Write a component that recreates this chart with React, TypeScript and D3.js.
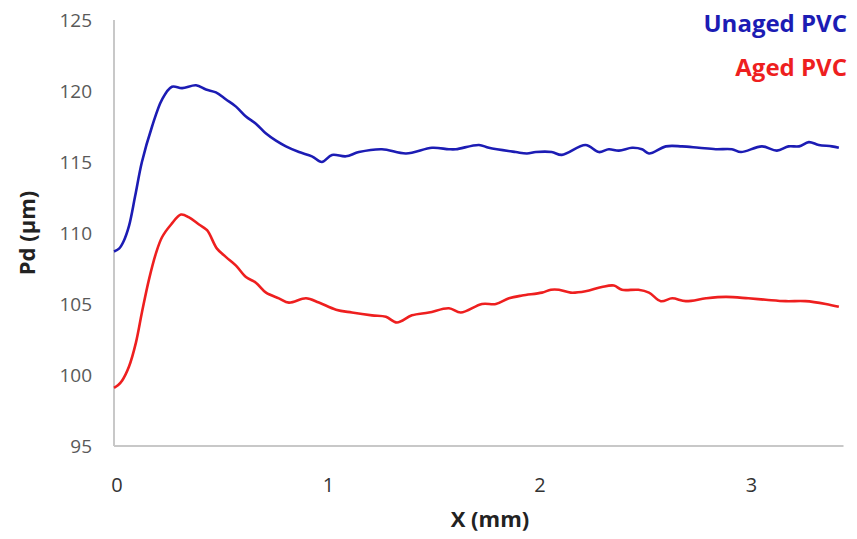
import * as d3 from "d3";

// X positions (mm) and Pd values (µm)
const unagedX = [0, 0.024, 0.045, 0.071, 0.1, 0.132, 0.18, 0.227, 0.274, 0.322, 0.388, 0.435, 0.482, 0.53, 0.577, 0.624, 0.671, 0.719, 0.766, 0.813, 0.875, 0.936, 0.983, 1.031, 1.097, 1.158, 1.267, 1.381, 1.504, 1.584, 1.617, 1.726, 1.773, 1.9, 1.953, 1.995, 2.07, 2.118, 2.23, 2.293, 2.34, 2.388, 2.45, 2.497, 2.53, 2.61, 2.686, 2.766, 2.846, 2.922, 2.965, 3.064, 3.135, 3.19, 3.24, 3.286, 3.333, 3.395, 3.428];
const unagedY = [108.7, 108.9, 109.4, 110.5, 112.6, 115.0, 117.5, 119.4, 120.3, 120.2, 120.4, 120.1, 119.9, 119.4, 118.9, 118.2, 117.7, 117.0, 116.5, 116.1, 115.7, 115.4, 115.0, 115.5, 115.4, 115.7, 115.9, 115.6, 116.0, 115.9, 115.9, 116.2, 116.0, 115.7, 115.6, 115.7, 115.7, 115.5, 116.2, 115.7, 115.9, 115.8, 116.0, 115.9, 115.6, 116.1, 116.1, 116.0, 115.9, 115.9, 115.7, 116.1, 115.8, 116.1, 116.1, 116.4, 116.2, 116.1, 116.0];

const agedX = [0, 0.02, 0.038, 0.071, 0.104, 0.132, 0.165, 0.199, 0.227, 0.27, 0.317, 0.355, 0.402, 0.44, 0.487, 0.53, 0.577, 0.624, 0.671, 0.719, 0.78, 0.827, 0.908, 0.969, 1.05, 1.125, 1.22, 1.286, 1.338, 1.409, 1.489, 1.584, 1.64, 1.74, 1.806, 1.868, 1.93, 2.024, 2.066, 2.104, 2.16, 2.23, 2.307, 2.364, 2.402, 2.48, 2.53, 2.586, 2.64, 2.704, 2.8, 2.894, 3.0, 3.083, 3.177, 3.27, 3.366, 3.428];
const agedY = [99.1, 99.3, 99.6, 100.6, 102.3, 104.4, 106.7, 108.6, 109.7, 110.6, 111.3, 111.1, 110.6, 110.2, 108.9, 108.3, 107.7, 106.9, 106.5, 105.8, 105.4, 105.1, 105.4, 105.1, 104.6, 104.4, 104.2, 104.1, 103.7, 104.2, 104.4, 104.7, 104.4, 105.0, 105.0, 105.4, 105.6, 105.8, 106.0, 106.0, 105.8, 105.9, 106.2, 106.3, 106.0, 106.0, 105.8, 105.2, 105.4, 105.2, 105.4, 105.5, 105.4, 105.3, 105.2, 105.2, 105.0, 104.8];

const xTicks = [0, 1, 2, 3];
const yTicks = [95, 100, 105, 110, 115, 120, 125];

const seriesNames = ["Unaged PVC", "Aged PVC"];
const seriesColors = ["#1c1cb4", "#ee1f1f"];

const W = 857;
const H = 539;
const font = "'Open Sans', 'Liberation Sans', sans-serif";

export default function App() {
  const x = d3.scaleLinear().domain([0, 3.45]).range([114, 843.5]);
  const y = d3.scaleLinear().domain([95, 125]).range([446, 20]);

  const series = [
    unagedX.map((v, i) => [v, unagedY[i]] as [number, number]),
    agedX.map((v, i) => [v, agedY[i]] as [number, number]),
  ];

  const line = d3
    .line<[number, number]>()
    .x((d) => x(d[0]))
    .y((d) => y(d[1]))
    .curve(d3.curveCatmullRom.alpha(0.5));

  return (
    <svg width={W} height={H} style={{ position: "absolute", left: 0, top: 0, background: "#fff" }}>
      {/* axes */}
      <line x1={x(0)} x2={x(0)} y1={y(125)} y2={y(95)} stroke="#c8c8c8" strokeWidth={2} />
      <line x1={x(0)} x2={x(3.45)} y1={y(95)} y2={y(95)} stroke="#c8c8c8" strokeWidth={2} />

      {yTicks.map((t) => (
        <text key={`y${t}`} x={92} y={y(t)} dy="0.36em" textAnchor="end" fontFamily={font} fontSize={19} fill="#595959">
          {t}
        </text>
      ))}
      {xTicks.map((t) => (
        <text key={`x${t}`} x={x(t) + 3} y={492} textAnchor="middle" fontFamily={font} fontSize={20} fill="#333">
          {t}
        </text>
      ))}

      <text x={490} y={527} textAnchor="middle" fontFamily={font} fontSize={22} fontWeight="bold" fill="#222">
        X (mm)
      </text>
      <text
        transform={`translate(35, ${(y(95) + y(125)) / 2}) rotate(-90)`}
        textAnchor="middle"
        fontFamily={font}
        fontSize={22}
        fontWeight="bold"
        fill="#222"
      >
        Pd (µm)
      </text>

      {series.map((s, i) => (
        <path key={seriesNames[i]} d={line(s) ?? ""} fill="none" stroke={seriesColors[i]} strokeWidth={2.6} strokeLinejoin="round" />
      ))}

      {/* legend */}
      {seriesNames.map((name, i) => (
        <text key={name} x={847} y={32 + i * 44} textAnchor="end" fontFamily={font} fontSize={24} fontWeight="bold" fill={seriesColors[i]}>
          {name}
        </text>
      ))}
    </svg>
  );
}
